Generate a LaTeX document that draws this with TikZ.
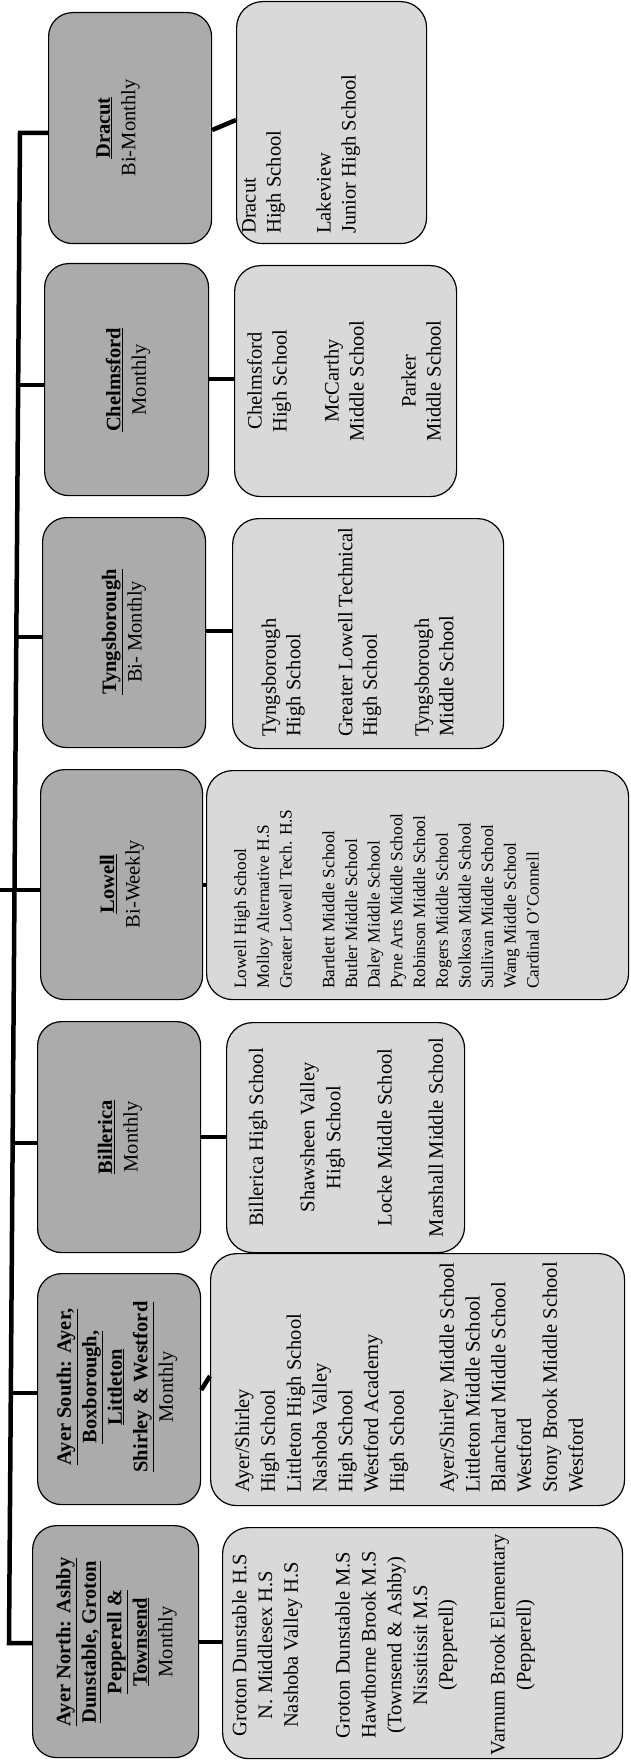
\documentclass[tikz,border=0pt]{standalone}
\usepackage{fontspec}
\setmainfont{Liberation Serif}
\usetikzlibrary{calc}
\begin{document}
\begin{tikzpicture}[x=1pt,y=-1pt,
  darkbox/.style={draw=black, line width=1.2pt, fill=black!33, rounded corners=24pt, inner sep=0pt, anchor=north west},
  lightbox/.style={draw=black, line width=1.2pt, fill=black!15, rounded corners=26pt, inner sep=0pt, anchor=north west},
  conn/.style={draw=black, line width=4.5pt, line join=miter},
  txt/.style={rotate=90, inner sep=0pt, text=black},
  big/.style={font=\fontsize{20.5}{25.5}\selectfont},
  hd/.style={txt, big, align=center, anchor=center}
]
\useasboundingbox (0,0) rectangle (630,1760);

% dark boxes
\node[darkbox, minimum width=163pt, minimum height=231pt] (d1) at (48,12) {};
\node[darkbox, minimum width=164pt, minimum height=232pt] (d2) at (44,263) {};
\node[darkbox, minimum width=163pt, minimum height=230pt] (d3) at (42,517) {};
\node[darkbox, minimum width=162pt, minimum height=230pt] (d4) at (40,769) {};
\node[darkbox, minimum width=163pt, minimum height=231pt] (d5) at (37,1021) {};
\node[darkbox, minimum width=163pt, minimum height=231pt] (d6) at (37,1273) {};
\node[darkbox, minimum width=166pt, minimum height=232pt] (d7) at (32,1525) {};

% light boxes
\node[lightbox, minimum width=190pt, minimum height=242pt] (l1) at (236,1) {};
\node[lightbox, minimum width=222pt, minimum height=231pt] (l2) at (234,265) {};
\node[lightbox, minimum width=271pt, minimum height=230pt] (l3) at (232,518) {};
\node[lightbox, minimum width=422pt, minimum height=229pt] (l4) at (206,770) {};
\node[lightbox, minimum width=238pt, minimum height=230pt] (l5) at (226,1022) {};
\node[lightbox, minimum width=414pt, minimum height=252pt] (l6) at (210,1253) {};
\node[lightbox, minimum width=400pt, minimum height=231pt] (l7) at (222,1527) {};

% trunk coordinates
\coordinate (c1) at (20,133);
\coordinate (c2) at (18,385);
\coordinate (c3) at (16.3,637);
\coordinate (c4) at (0,890);
\coordinate (c5) at (12.6,1143);
\coordinate (c6) at (10.8,1393);
\coordinate (c7) at (9,1643);

\draw[conn] (c1 -| d1.west) -- (c1) -- (c7) -- (c7 -| d7.west);
\draw[conn] (c2) -- (c2 -| d2.west);
\draw[conn] (c3) -- (c3 -| d3.west);
\draw[conn] (c4) -- (c4 -| d4.west);
\draw[conn] (c5) -- (c5 -| d5.west);
\draw[conn] (c6) -- (c6 -| d6.west);

% dark to light connectors
\coordinate (e1) at (0,130); \coordinate (f1) at (0,120);
\coordinate (e2) at (0,379);
\coordinate (e3) at (0,631);
\coordinate (e4) at (0,885);
\coordinate (e5) at (0,1137);
\coordinate (e6) at (0,1390); \coordinate (f6) at (0,1376);
\coordinate (e7) at (0,1642);
\draw[conn] (e1 -| d1.east) -- (f1 -| l1.west);
\draw[conn] (e2 -| d2.east) -- (e2 -| l2.west);
\draw[conn] (e3 -| d3.east) -- (e3 -| l3.west);
\draw[conn] (e4 -| d4.east) -- (e4 -| l4.west);
\draw[conn] (e5 -| d5.east) -- (e5 -| l5.west);
\draw[conn] (e6 -| d6.east) -- (f6 -| l6.west);
\draw[conn] (e7 -| d7.east) -- (e7 -| l7.west);

% dark box texts
\node[hd] (td1) at (118,128) {\underline{\textbf{Dracut}}\\Bi-Monthly};
\node[hd] (td2) at (128,380) {\underline{\textbf{Chelmsford}}\\Monthly};
\node[hd] (td3) at (124,632) {\underline{\textbf{Tyngsborough}}\\Bi- Monthly};
\node[hd] (td4) at (122,884) {\underline{\textbf{Lowell}}\\Bi-Weekly};
\node[hd] (td5) at (120,1137) {\underline{\textbf{Billerica}}\\Monthly};
\node[hd] (td6) at (117,1387) {\underline{\textbf{Ayer South: Ayer,}}\\\underline{\textbf{Boxborough,}}\\\underline{\textbf{Littleton}}\\\underline{\textbf{Shirley \& Westford}}\\Monthly};
\node[hd] (td7) at (116.5,1642) {\underline{\textbf{Ayer North: Ashby}}\\\underline{\textbf{Dunstable, Groton}}\\\underline{\textbf{Pepperell \&}}\\\underline{\textbf{Townsend}}\\Monthly};

% light box texts
\node[txt, align=left, anchor=west, font=\fontsize{20.5}{25}\selectfont] (tl1) at (301,234)
  {Dracut\\High School\\[25pt]Lakeview\\Junior High School};
\node[txt, align=center, anchor=center, font=\fontsize{20.5}{25}\selectfont] (tl2) at (344,381)
  {Chelmsford\\High School\\[27pt]McCarthy\\Middle  School\\[27pt]Parker\\Middle School};
\node[txt, align=left, anchor=west, font=\fontsize{20.5}{24.5}\selectfont] (tl3) at (357.5,737)
  {Tyngsborough\\High School\\[27.5pt]Greater Lowell Technical\\High School\\[27.5pt]Tyngsborough\\Middle  School};
\node[txt, align=left, anchor=west, font=\fontsize{17.3}{22.7}\selectfont] (tl4) at (386.5,989)
  {Lowell High School\\Molloy Alternative H.S\\Greater Lowell Tech. H.S\\[20pt]Bartlett Middle School\\Butler Middle School\\Daley Middle School\\Pyne Arts Middle School\\Robinson Middle School\\Rogers Middle School\\Stolkosa Middle School\\Sullivan Middle School\\Wang Middle School\\Cardinal O’Connell};
\node[txt, align=center, anchor=center, font=\fontsize{20.5}{26}\selectfont] (tl5) at (346,1137.5)
  {Billerica High School\\[25.3pt]Shawsheen Valley\\High School\\[25.3pt]Locke Middle School\\[25.3pt]Marshall Middle School};
\node[txt, align=left, anchor=west, font=\fontsize{20.5}{25.8}\selectfont] (tl6) at (409,1493)
  {Ayer/Shirley\\High School\\Littleton High School\\Nashoba Valley\\High School\\Westford Academy\\High School\\[24pt]Ayer/Shirley Middle School\\Littleton Middle School\\Blanchard Middle School\\Westford\\Stony Brook Middle School\\Westford};
\node[txt, align=center, anchor=center, font=\fontsize{20.5}{25.8}\selectfont] (tl7) at (383.5,1645)
  {Groton Dunstable H.S\\N. Middlesex H.S\\Nashoba Valley H.S\\[26pt]Groton Dunstable M.S\\Hawthorne Brook M.S\\(Townsend \& Ashby)\\Nissitissit M.S\\(Pepperell)\\[26pt]Varnum Brook Elementary\\(Pepperell)};
\end{tikzpicture}
\end{document}
